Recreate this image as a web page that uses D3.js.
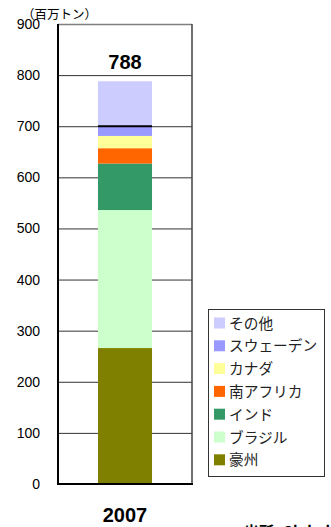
<!DOCTYPE html>
<html>
  <style>
    body { margin: 0; background: #fff; }
    text { font-family: "Liberation Sans", Arial, "Noto Sans CJK JP", sans-serif; }
    .jp { font-family: "Noto Sans CJK JP", "Liberation Sans", sans-serif; }
  </style>
  <body>
    <div id="chart"></div>
  </body>
  <script src="https://d3js.org/d3.v7.min.js"></script>
  <script>
    // Category and stacked series (bottom to top)
    const YEARS = ['2007'];
    const SERIES = ['豪州', 'ブラジル', 'インド', '南アフリカ', 'カナダ', 'スウェーデン', 'その他'];
    const VALUES = [266, 270, 91, 30, 24, 19, 88];
    const COLORS = ['#808000', '#CCFFCC', '#339966', '#FF6600', '#FFFF99', '#9999FF', '#CCCCFF'];
    const TOTALS = [788];
    const Y_TICKS = [0, 100, 200, 300, 400, 500, 600, 700, 800, 900];

    var W = 331, H = 527;
    var PLOT_L = 58, PLOT_R = 192, PLOT_T = 24, PLOT_B = 484;

    var svg = d3.select('#chart').append('svg')
      .attr('width', W).attr('height', H);

    var x = d3.scaleBand().domain(YEARS).range([PLOT_L, PLOT_R])
      .paddingInner(0).paddingOuter(0.74);
    var y = d3.scaleLinear().domain([0, 900]).range([PLOT_B, PLOT_T]);

    // Gridlines
    svg.append('g').selectAll('line')
      .data(Y_TICKS.filter(function (d) { return d > 0 && d < 900; }))
      .enter().append('line')
      .attr('x1', PLOT_L).attr('x2', PLOT_R)
      .attr('y1', function (d) { return y(d) + 0.5; })
      .attr('y2', function (d) { return y(d) + 0.5; })
      .style('stroke', '#333').style('stroke-width', 1);

    // Top and right border
    svg.append('line').attr('x1', PLOT_L).attr('x2', PLOT_R)
      .attr('y1', y(900) + 0.5).attr('y2', y(900) + 0.5)
      .style('stroke', '#808080').style('stroke-width', 1.5);
    svg.append('line').attr('x1', PLOT_R).attr('x2', PLOT_R)
      .attr('y1', y(900)).attr('y2', PLOT_B)
      .style('stroke', '#404040').style('stroke-width', 1.5);

    // Stacked bar
    var cum = 0;
    var stack = VALUES.map(function (v, i) {
      var s = { name: SERIES[i], y0: cum, y1: cum + v, color: COLORS[i] };
      cum += v;
      return s;
    });

    svg.append('g').selectAll('rect')
      .data(stack)
      .enter().append('rect')
      .attr('x', x('2007'))
      .attr('width', x.bandwidth())
      .attr('y', function (d) { return y(d.y1); })
      .attr('height', function (d) { return y(d.y0) - y(d.y1); })
      .style('fill', function (d) { return d.color; });

    // dark line at top of スウェーデン
    svg.append('line')
      .attr('x1', x('2007')).attr('x2', x('2007') + x.bandwidth())
      .attr('y1', y(stack[5].y1)).attr('y2', y(stack[5].y1))
      .style('stroke', '#000').style('stroke-width', 2);

    // Axes lines
    svg.append('line').attr('x1', PLOT_L).attr('x2', PLOT_L)
      .attr('y1', y(900)).attr('y2', PLOT_B + 1)
      .style('stroke', '#000').style('stroke-width', 2);
    svg.append('line').attr('x1', PLOT_L - 1).attr('x2', PLOT_R + 1)
      .attr('y1', PLOT_B).attr('y2', PLOT_B)
      .style('stroke', '#000').style('stroke-width', 2);

    // Y tick labels
    svg.append('g').selectAll('text')
      .data(Y_TICKS)
      .enter().append('text')
      .attr('x', 40)
      .attr('y', function (d) { return y(d) + 5; })
      .attr('text-anchor', 'end')
      .style('font-size', '14px')
      .style('fill', '#000')
      .text(function (d) { return d; });

    // Unit label
    svg.append('text')
      .attr('class', 'jp')
      .attr('x', 22).attr('y', 19)
      .style('font-size', '12.5px')
      .text('（百万トン）');

    // Total label
    svg.append('text')
      .attr('x', x('2007') + x.bandwidth() / 2)
      .attr('y', y(TOTALS[0]) - 12)
      .attr('text-anchor', 'middle')
      .style('font-size', '20px').style('font-weight', 'bold')
      .text(TOTALS[0]);

    // Category label
    svg.append('text')
      .attr('x', x('2007') + x.bandwidth() / 2)
      .attr('y', 522)
      .attr('text-anchor', 'middle')
      .style('font-size', '20px').style('font-weight', 'bold')
      .text(YEARS[0]);

    // Legend
    var legend = svg.append('g');
    legend.append('rect')
      .attr('x', 208.5).attr('y', 309.5).attr('width', 116).attr('height', 167)
      .style('fill', '#fff').style('stroke', '#333').style('stroke-width', 1);

    var items = legend.selectAll('g.item')
      .data(stack.slice().reverse())
      .enter().append('g')
      .attr('class', 'item')
      .attr('transform', function (d, i) { return 'translate(214,' + (323 + i * 22.8) + ')'; });
    items.append('rect')
      .attr('x', 0).attr('y', -5.5).attr('width', 11).attr('height', 11)
      .style('fill', function (d) { return d.color; });
    items.append('text')
      .attr('class', 'jp')
      .attr('x', 15).attr('y', 5.5)
      .style('font-size', '14.7px').style('fill', '#222')
      .text(function (d) { return d.name; });

    // Source note (clipped at page bottom)
    svg.append('text')
      .attr('class', 'jp')
      .attr('x', 244).attr('y', 537)
      .style('font-size', '15px').style('font-weight', 'bold')
      .text('出所: Global Trade Atlas');
  </script>
</html>
